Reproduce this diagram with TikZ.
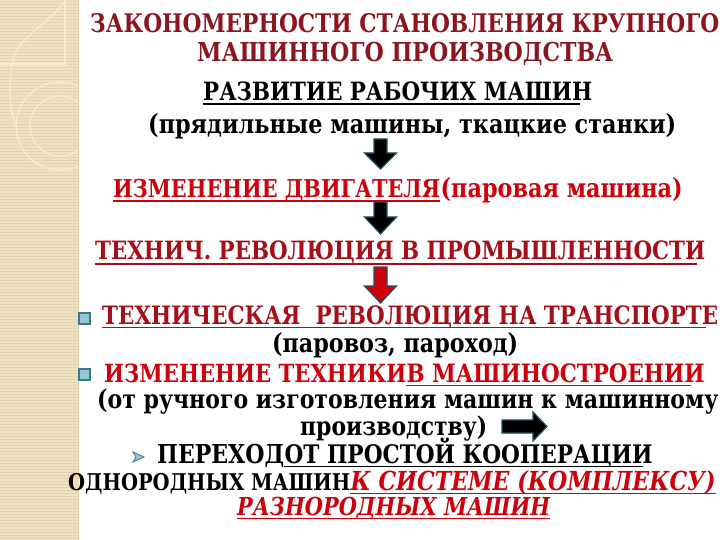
\documentclass[tikz,border=0pt]{standalone}
\usepackage{fontspec}
\setmainfont{DejaVu Serif}
\usepackage{graphicx}
\definecolor{titlered}{RGB}{140,22,32}
\definecolor{darkred}{RGB}{168,14,24}
\definecolor{brightred}{RGB}{205,0,12}
\definecolor{strip}{RGB}{238,226,194}
\definecolor{stripline}{RGB}{226,212,175}
\definecolor{deco}{RGB}{244,235,210}
\definecolor{arredge}{RGB}{30,80,95}
\definecolor{bulfill}{RGB}{150,200,210}
\definecolor{buledge}{RGB}{60,120,135}
\newcommand{\fw}[2]{\scalebox{1}[1.18]{\resizebox{#1bp}{!}{#2}}}
\begin{document}
\begin{tikzpicture}[x=1bp,y=-1bp,
  txt/.style={inner sep=0pt, anchor=base west, font=\bfseries},
  ul/.style={line width=1.4bp},
  blk/.style={fill=black, draw=arredge, line width=1.2bp, line join=miter},
  redblk/.style={fill=brightred, draw=arredge, line width=1.2bp},
  bul/.style={fill=bulfill, draw=buledge, line width=1.2bp},
  decoline/.style={draw=deco, line width=1.4bp}]
\useasboundingbox (0,0) rectangle (720,540);
\clip (0,0) rectangle (720,540);
\fill[white] (0,0) rectangle (720,540);
% left strip
\begin{scope}
  \clip (0,0) rectangle (78,540);
  \fill[strip] (0,0) rectangle (78,540);
  \foreach \yy in {1.5,4.5,...,540} \draw[stripline, line width=0.7bp] (0,\yy) -- (78,\yy);
  \draw[decoline] (65,0) -- (65,64) -- (0,64);
  \draw[decoline] (64,2) .. controls (45,28) and (15,38) .. (12,64);
  \draw[decoline] (60,126) circle (44);
  \draw[decoline] (60,126) circle (30);
  \draw[decoline] (12,64) .. controls (8,90) and (10,110) .. (16,126);
\end{scope}
\draw[stripline, line width=1bp] (78.5,0) -- (78.5,540);

% title
\node[txt, text=titlered] (t1) at (90,33) {\fw{629}{ЗАКОНОМЕРНОСТИ СТАНОВЛЕНИЯ КРУПНОГО}};
\node[txt, text=titlered] (t2) at (197,62) {\fw{416}{МАШИННОГО ПРОИЗВОДСТВА}};

% line 1
\node[txt, text=black] (r1) at (203,101) {\fw{389}{РАЗВИТИЕ РАБОЧИХ МАШИН}};
\draw[ul, black] ([yshift=-3bp]r1.base west) -- ([xshift=-12bp,yshift=-3bp]r1.base east);
\node[txt, text=black] (r2) at (148,134) {\fw{528}{(прядильные машины, ткацкие станки)}};

% arrow 1
\coordinate (a1) at (380.5,139);
\draw[blk] (a1) ++(-6.5,0) -- ++(13,0) -- ++(0,14) -- ++(9.5,0) -- ++(-16,16) -- ++(-16,-16) -- ++(9.5,0) -- cycle;

% engine
\node[txt, text=brightred] (e1) at (113,198) {\fw{327}{ИЗМЕНЕНИЕ ДВИГАТЕЛЯ}};
\draw[ul, brightred] ([yshift=-3bp]e1.base west) -- ([yshift=-3bp]e1.base east);
\node[txt, text=brightred] (e2) at (e1.base east) {\fw{242}{(паровая машина)}};

% arrow 2
\coordinate (a2) at (380.5,202);
\draw[blk] (a2) ++(-6.5,0) -- ++(13,0) -- ++(0,15) -- ++(9.5,0) -- ++(-16,17) -- ++(-16,-17) -- ++(9.5,0) -- cycle;

% revolution in industry
\node[txt, text=darkred] (p1) at (95,260) {\fw{610}{ТЕХНИЧ. РЕВОЛЮЦИЯ В ПРОМЫШЛЕННОСТИ}};
\draw[ul, darkred] ([yshift=-4bp]p1.base west) -- ([xshift=-8bp,yshift=-4bp]p1.base east);

% arrow 3 (red)
\coordinate (a3) at (380.5,267);
\draw[redblk] (a3) ++(-6.5,0) -- ++(13,0) -- ++(0,19) -- ++(9.5,0) -- ++(-16,17) -- ++(-16,-17) -- ++(9.5,0) -- cycle;

% bullet 1
\draw[bul] (79,313) rectangle (90,324);
\node[txt, text=darkred] (b1) at (102,324) {\fw{616}{ТЕХНИЧЕСКАЯ\ \ РЕВОЛЮЦИЯ НА ТРАНСПОРТЕ}};
\draw[ul, darkred] ([yshift=-3.5bp]b1.base west) -- ([xshift=-12bp,yshift=-3.5bp]b1.base east);
\node[txt, text=black] (b1n) at (272,352) {\fw{246}{(паровоз, пароход)}};

% bullet 2
\draw[bul] (79,369) rectangle (90,380);
\node[txt, text=brightred] (b2) at (104,382) {\fw{302}{ИЗМЕНЕНИЕ ТЕХНИКИ}};
\node[txt, text=brightred] (b2u) at (b2.base east) {\fw{298}{В МАШИНОСТРОЕНИИ}};
\draw[ul, brightred] ([yshift=-3.5bp]b2u.base west) -- ([xshift=-14bp,yshift=-3.5bp]b2u.base east);
\node[txt, text=black] (b2n) at (97,408) {\fw{621}{(от ручного изготовления машин к машинному}};
\node[txt, text=black] (b2m) at (300,435) {\fw{187}{производству)}};

% right arrow
\coordinate (ra) at (502,426.5);
\draw[blk] (ra) ++(0,-6.5) -- ++(31,0) -- ++(0,-8) -- ++(14,14.5) -- ++(-14,14.5) -- ++(0,-8) -- ++(-31,0) -- cycle;

% transition
\draw[fill=bulfill, draw=buledge, line width=0.8bp] (133,452) -- (144,457) -- (133,462) -- (136,457) -- cycle;
\node[txt, text=black] (c1) at (157,463) {\fw{127}{ПЕРЕХОД}};
\node[txt, text=black] (c2) at (c1.base east) {\fw{368}{ОТ ПРОСТОЙ КООПЕРАЦИИ}};
\draw[ul, black] ([yshift=-3.5bp]c2.base west) -- ([xshift=-10bp,yshift=-3.5bp]c2.base east);
\node[txt, text=black] (c3) at (68,490) {\fw{282}{ОДНОРОДНЫХ МАШИН}};
\node[txt, text=brightred, font=\bfseries\itshape] (c4) at (c3.base east) {\fw{365}{К СИСТЕМЕ (КОМПЛЕКСУ)}};
\draw[ul, brightred] ([yshift=-3.5bp]c4.base west) -- ([yshift=-3.5bp]c4.base east);
\node[txt, text=brightred, font=\bfseries\itshape] (c5) at (237,515) {\fw{313}{РАЗНОРОДНЫХ МАШИН}};
\draw[ul, brightred] ([yshift=-3.5bp]c5.base west) -- ([yshift=-3.5bp]c5.base east);
\end{tikzpicture}
\end{document}
